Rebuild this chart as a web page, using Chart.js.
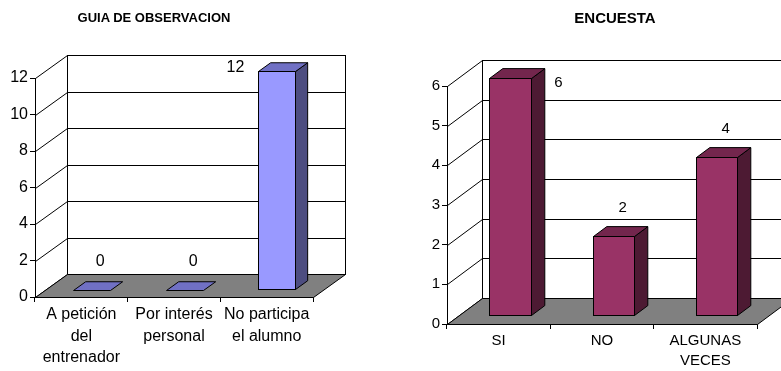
<!DOCTYPE html>
<html>
<head>
<meta charset="utf-8">
<script src="https://cdn.jsdelivr.net/npm/chart.js@4"></script>
<style>
  html, body { margin: 0; padding: 0; background: #fff; width: 781px; height: 371px; overflow: hidden; }
  canvas { position: absolute; top: 0; }
  .titulo {
    position: absolute; transform: translate(-50%, -50%);
    font-family: "Liberation Sans", Arial, sans-serif; font-weight: bold; color: #000; white-space: nowrap;
  }
</style>
</head>
<body>
<canvas id="guiaChart" width="390" height="371" style="left:0"></canvas>
<canvas id="encuestaChart" width="400" height="371" style="left:400px"></canvas>
<div class="titulo" style="left:154px; top:17px; font-size:13px">GUIA DE OBSERVACION</div>
<div class="titulo" style="left:615px; top:17px; font-size:15px">ENCUESTA</div>

<script>
// Guía de observación
const guiaCategorias = [["A petición", "del", "entrenador"], ["Por interés", "personal"], ["No participa", "el alumno"]];
const guiaValores = [0, 0, 12];
const guiaTicks = [0, 2, 4, 6, 8, 10, 12];

// Encuesta
const encuestaCategorias = ["SI", "NO", ["ALGUNAS", "VECES"]];
const encuestaValores = [6, 2, 4];
const encuestaTicks = [0, 1, 2, 3, 4, 5, 6];

Chart.defaults.font.family = '"Liberation Sans", Arial, sans-serif';
Chart.defaults.color = '#000';

function linea(ctx, x1, y1, x2, y2) {
    ctx.beginPath();
    ctx.moveTo(x1, y1);
    ctx.lineTo(x2, y2);
    ctx.stroke();
}

function poligono(ctx, pts, relleno) {
    ctx.beginPath();
    ctx.moveTo(pts[0][0], pts[0][1]);
    for (let i = 1; i < pts.length; i++) ctx.lineTo(pts[i][0], pts[i][1]);
    ctx.closePath();
    ctx.fillStyle = relleno;
    ctx.fill();
    ctx.stroke();
}

// paredes, piso y barras con efecto 3D
const barras3d = {
    id: 'barras3d',
    beforeDatasetsDraw(chart, args, o) {
        const { ctx, chartArea: a, scales: { y } } = chart;
        const L = Math.round(a.left) + 0.5, R = Math.round(a.right) + 0.5;
        const T = Math.round(a.top) + 0.5, B = Math.round(a.bottom) + 0.5;
        ctx.save();
        ctx.lineWidth = 1;
        ctx.strokeStyle = '#000';

        // pared del fondo
        ctx.fillStyle = '#fff';
        ctx.fillRect(L + o.dx, T + o.dy, R - L, B - T);
        ctx.strokeRect(L + o.dx, T + o.dy, R - L, B - T);

        // líneas de división en pared lateral y de fondo
        y.ticks.forEach(t => {
            const py = Math.round(y.getPixelForValue(t.value)) + 0.5;
            linea(ctx, L, py, L + o.dx, py + o.dy);
            linea(ctx, L + o.dx, py + o.dy, R + o.dx, py + o.dy);
        });

        // piso
        poligono(ctx, [[L, B], [R, B], [R + o.dx, B + o.dy], [L + o.dx, B + o.dy]], o.piso);
        ctx.restore();
    },
    beforeDatasetDraw() {
        return false;
    },
    afterDatasetsDraw(chart, args, o) {
        const { ctx, scales: { y } } = chart;
        const ds = chart.data.datasets[0];
        const meta = chart.getDatasetMeta(0);
        const fx = o.dx * o.frente, fy = o.dy * o.frente;
        const px = o.dx * o.fondo, py = o.dy * o.fondo;
        ctx.save();
        ctx.lineWidth = 1;
        ctx.strokeStyle = '#000';
        meta.data.forEach((bar, i) => {
            const p = bar.getProps(['x', 'y', 'base', 'width'], true);
            const l = Math.round(p.x - p.width / 2 + fx) + 0.5;
            const r = Math.round(p.x + p.width / 2 + fx) + 0.5;
            const t = Math.round(p.y + fy) + 0.5;
            const b = Math.round(p.base + fy) + 0.5;
            if (b - t > 1) {
                ctx.fillStyle = ds.backgroundColor;
                ctx.fillRect(l, t, r - l, b - t);
                ctx.strokeRect(l, t, r - l, b - t);
                poligono(ctx, [[r, t], [r + px, t + py], [r + px, b + py], [r, b]], ds.colorLado);
            }
            poligono(ctx, [[l, t], [r, t], [r + px, t + py], [l + px, t + py]], ds.colorTapa);

            // etiqueta de valor
            const v = ds.data[i];
            let ex = (l + r) / 2 + px / 2 + 2, ey = t - 29;
            if (v >= y.max) {
                if (o.ladoEtiqueta === 'izq') { ex = l - 23; ey = t - 4; }
                else { ex = r + 27; ey = t + 4; }
            }
            ctx.fillStyle = '#000';
            ctx.font = o.fuente + 'px "Liberation Sans", Arial, sans-serif';
            ctx.textAlign = 'center';
            ctx.textBaseline = 'middle';
            ctx.fillText(String(v), ex, ey);
        });
        ctx.restore();
    }
};

function crearGrafico(id, categorias, valores, ticks, c) {
    const ctx = document.getElementById(id).getContext('2d');
    return new Chart(ctx, {
        type: 'bar',
        data: {
            labels: categorias,
            datasets: [{
                data: valores,
                backgroundColor: c.frente,
                colorTapa: c.tapa,
                colorLado: c.lado,
                categoryPercentage: 1,
                barPercentage: 0.4
            }]
        },
        options: {
            responsive: false,
            animation: false,
            layout: { padding: { top: c.arriba, right: c.derecha, left: 0, bottom: 0 } },
            plugins: {
                legend: { display: false },
                tooltip: { enabled: false },
                barras3d: { dx: c.dx, dy: c.dy, frente: 0.32, fondo: 0.38, piso: '#808080', ladoEtiqueta: c.ladoEtiqueta, fuente: c.fuente }
            },
            scales: {
                x: {
                    offset: true,
                    border: { display: false },
                    grid: { display: true, offset: true, drawOnChartArea: false, tickLength: 5, color: '#000' },
                    ticks: { font: { size: c.fuente, lineHeight: c.interlinea }, padding: 2, maxRotation: 0, autoSkip: false },
                    afterFit: s => { s.height = c.altoX; }
                },
                y: {
                    min: 0,
                    max: ticks[ticks.length - 1],
                    border: { display: true, color: '#000' },
                    grid: { display: true, drawOnChartArea: false, tickLength: 5, color: '#000' },
                    ticks: { font: { size: c.fuente }, padding: 2 },
                    afterBuildTicks: s => { s.ticks = ticks.map(v => ({ value: v })); },
                    afterFit: s => { s.width = c.anchoY; }
                }
            }
        },
        plugins: [barras3d]
    });
}

crearGrafico('guiaChart', guiaCategorias, guiaValores, guiaTicks, {
    frente: '#9999FF', tapa: '#7070C4', lado: '#4D4D80', fuente: 16, interlinea: 1.35,
    dx: 32, dy: -23, arriba: 78, derecha: 77, anchoY: 35, altoX: 74, ladoEtiqueta: 'izq'
});

crearGrafico('encuestaChart', encuestaCategorias, encuestaValores, encuestaTicks, {
    frente: '#993366', tapa: '#73264D', lado: '#4D1A33', fuente: 15, interlinea: 1.33,
    dx: 35, dy: -26, arriba: 86, derecha: 43, anchoY: 47, altoX: 47, ladoEtiqueta: 'der'
});
</script>
</body>
</html>
